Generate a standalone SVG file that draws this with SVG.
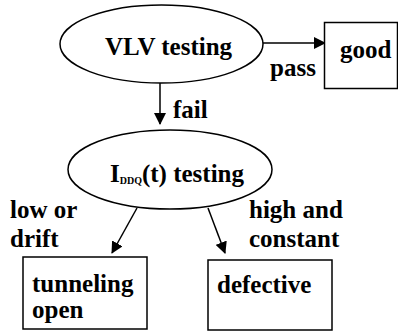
<svg xmlns="http://www.w3.org/2000/svg" width="398" height="333" viewBox="0 0 398 333">
<style>
text{font-family:"Liberation Serif","Times New Roman",serif;font-weight:bold;font-size:25px;fill:#000}
.sub{font-size:10px}
.shape{fill:#fff;stroke:#000;stroke-width:1.5}
.conn{stroke:#000;stroke-width:1.5;fill:none}
</style>
<defs>
<marker id="ah" markerWidth="12" markerHeight="12" refX="11" refY="6" orient="auto" markerUnits="userSpaceOnUse">
<path d="M0,0 L12,6 L0,12 Z" fill="#000"/>
</marker>
</defs>
<rect width="398" height="333" fill="#fff"/>
<g id="connectors">
<line class="conn" x1="263" y1="43" x2="325" y2="43" marker-end="url(#ah)"/>
<line class="conn" x1="160" y1="83" x2="160" y2="124" marker-end="url(#ah)"/>
<line class="conn" x1="137" y1="208" x2="112" y2="253" marker-end="url(#ah)"/>
<line class="conn" x1="208" y1="208" x2="225" y2="253" marker-end="url(#ah)"/>
<text x="270" y="76">pass</text>
<text x="173" y="118">fail</text>
<text x="10" y="218">low or</text>
<text x="10" y="247">drift</text>
<text x="249" y="218">high and</text>
<text x="249" y="247">constant</text>
</g>
<g id="vlv">
<ellipse class="shape" cx="161.5" cy="44" rx="101.5" ry="39"/>
<text x="105" y="55">VLV testing</text>
</g>
<g id="good">
<rect class="shape" x="324.5" y="22.5" width="73" height="66"/>
<text x="340" y="58">good</text>
</g>
<g id="iddq">
<ellipse class="shape" cx="170" cy="169.5" rx="102" ry="39.5"/>
<text x="110" y="182">I<tspan class="sub" dy="2">DDQ</tspan><tspan dy="-2">(t) testing</tspan></text>
</g>
<g id="tunneling">
<rect class="shape" x="23" y="257" width="124" height="72"/>
<text x="32" y="292">tunneling</text>
<text x="32" y="318">open</text>
</g>
<g id="defective">
<rect class="shape" x="208" y="260" width="124" height="70"/>
<text x="217" y="293">defective</text>
</g>
</svg>
